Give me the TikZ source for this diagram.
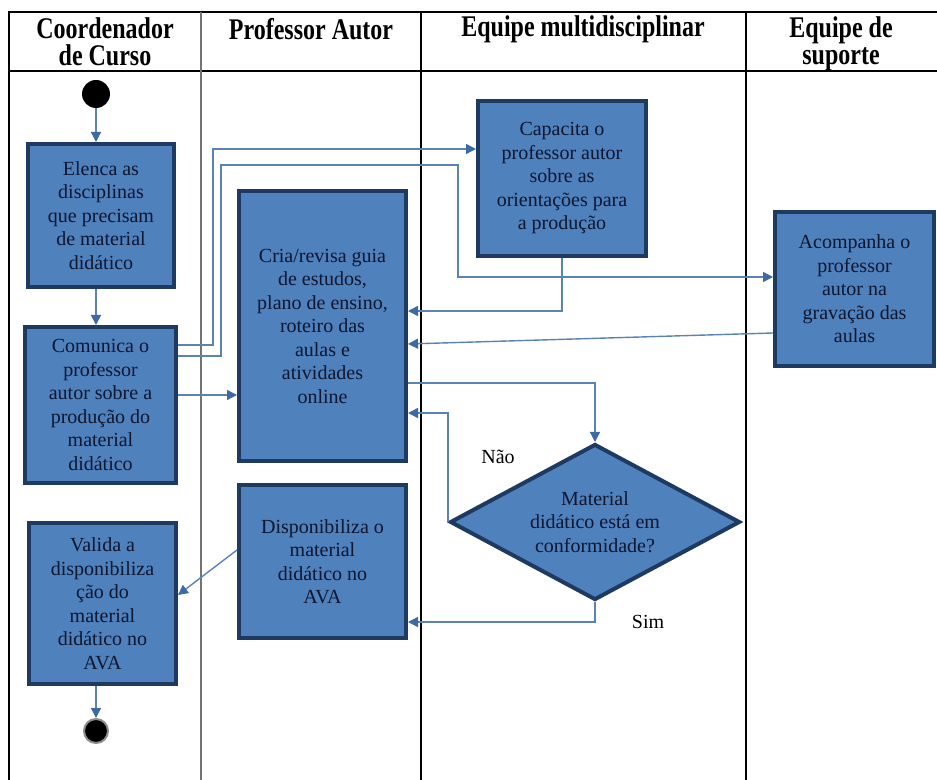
\documentclass[tikz,border=0pt]{standalone}
\usepackage{fontspec}
\setmainfont{Liberation Serif}
\usetikzlibrary{arrows.meta,shapes.geometric}

\definecolor{caixaazul}{HTML}{4F81BD}
\definecolor{bordaazul}{HTML}{1F3A60}
\definecolor{linhaazul}{HTML}{5B82B4}
\definecolor{pontaazul}{HTML}{3D6AA6}
\definecolor{textoazul}{HTML}{0E1630}

\begin{document}
\begin{tikzpicture}[x=0.5pt, y=-0.5pt,
  atividade/.style={draw=bordaazul, line width=2pt, fill=caixaazul, align=center,
    text=textoazul, inner sep=0pt, font=\fontsize{10}{11.75}\selectfont},
  decisao/.style={diamond, aspect=1.85, draw=bordaazul, line width=2pt, fill=caixaazul,
    align=center, text=textoazul, inner sep=0pt, font=\fontsize{10}{11.75}\selectfont},
  fluxo/.style={draw=linhaazul, line width=0.7pt,
    -{Triangle[length=5pt, width=5pt, color=pontaazul]}},
  raia/.style={draw=black, line width=0.6pt},
  cabeca/.style={font=\bfseries\fontsize{12}{10.8}\selectfont, align=center, yscale=1.25},
  rotulo/.style={font=\fontsize{10}{12}\selectfont},
  marco/.style={circle, fill=black, inner sep=0pt}
]
% page size of the reference (in px)
\useasboundingbox (0,0) rectangle (937,780);

% swimlanes
\draw[raia] (9,780) -- (9,12) -- (937,12);
\draw[raia] (9,71) -- (937,71);
\draw[raia, draw=black!55] (201,12) -- (201,780);
\draw[raia] (421,12) -- (421,780);
\draw[raia] (746,12) -- (746,780);

% lane titles
\node[cabeca] (t1) at (105,42) {Coordenador\\de Curso};
\node[cabeca] (t2) at (311,29) {Professor Autor};
\node[cabeca] (t3) at (583,29) {Equipe multidisciplinar};
\node[cabeca] (t4) at (841,44) {Equipe de\\suporte};

% start / end
\node[marco, minimum size=14pt] (inicio) at (96,94) {};
\node[marco, draw=black!45, line width=1pt, minimum size=12pt] (fim) at (96,731) {};

% activities
\node[atividade, minimum width=73pt, minimum height=71.5pt] (elenca) at (101,215.5)
  {Elenca as\\disciplinas\\que precisam\\de material\\didático};
\node[atividade, minimum width=75.5pt, minimum height=78pt] (comunica) at (100.5,405)
  {Comunica o\\professor\\autor sobre a\\produção do\\material\\didático};
\node[atividade, minimum width=83.5pt, minimum height=135pt] (cria) at (322.5,326)
  {Cria/revisa guia\\de estudos,\\plano de ensino,\\roteiro das\\aulas e\\atividades\\online};
\node[atividade, minimum width=83.5pt, minimum height=76.5pt] (disp) at (322.5,561.5)
  {Disponibiliza o\\material\\didático no\\AVA};
\node[atividade, minimum width=73.5pt, minimum height=80.5pt] (valida) at (102.5,603.5)
  {Valida a\\disponibiliza\\ção do\\material\\didático no\\AVA};
\node[atividade, minimum width=84pt, minimum height=77.5pt] (capacita) at (562,178.5)
  {Capacita o\\professor autor\\sobre as\\orientações para\\a produção};
\node[atividade, minimum width=79.5pt, minimum height=77pt] (acompanha) at (854.5,289)
  {Acompanha o\\professor\\autor na\\gravação das\\aulas};
\node[decisao, minimum width=145pt, minimum height=78pt] (conforme) at (595,522)
  {Material\\didático está em\\conformidade?};

% flow
\draw[fluxo] (inicio) -- (inicio |- elenca.north);
\draw[fluxo] (elenca.south -| inicio) -- (comunica.north -| inicio);
\draw[fluxo] ([yshift=5pt]comunica.east) -- ([yshift=5pt]comunica.east -| cria.west);
\draw[fluxo] ([yshift=30pt]comunica.east) -- ++(17.5pt,0) |- ([yshift=14.75pt]capacita.west);
\draw[fluxo] ([yshift=24.5pt]comunica.east) -- ++(21.5pt,0)
  |- ([xshift=-9pt, yshift=6.75pt]capacita.west) |- ([yshift=6pt]acompanha.west);
\draw[fluxo] (capacita.south) |- ([yshift=7.5pt]cria.east);
\draw[fluxo] ([yshift=-22pt]acompanha.west) -- ([yshift=-9pt]cria.east);
\draw[fluxo] ([yshift=-28.5pt]cria.east) -| (conforme.north);
\draw[fluxo] (conforme.west) |- ([yshift=-43.5pt]cria.east);
\draw[fluxo] (conforme.south) |- ([yshift=-30.25pt]disp.east);
\draw[fluxo] ([yshift=5.75pt]disp.west) -- ([yshift=4.25pt]valida.east);
\draw[fluxo] (valida.south -| fim) -- (fim);

% answers
\node[rotulo] (nao) at (498,457) {Não};
\node[rotulo] (sim) at (648,622) {Sim};
\end{tikzpicture}
\end{document}
